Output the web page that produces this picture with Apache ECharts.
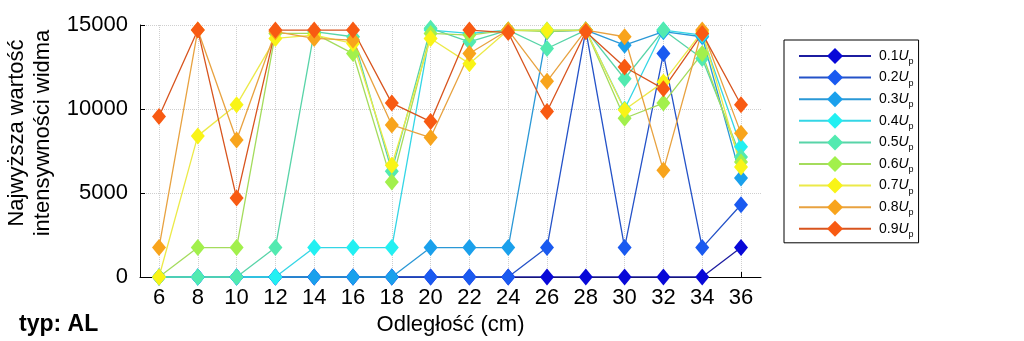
<!DOCTYPE html>
<html>
<head>
<meta charset="utf-8">
<script src="https://cdn.jsdelivr.net/npm/echarts@6/dist/echarts.min.js"></script>
<style>
  html, body { margin: 0; padding: 0; background: #fff; }
  #chart { width: 1024px; height: 341px; }
</style>
</head>
<body>
<div id="chart"></div>
<script>
// Distance from the source (cm)
const distances = [6, 8, 10, 12, 14, 16, 18, 20, 22, 24, 26, 28, 30, 32, 34, 36];
// Voltage levels as fractions of Up
const levels = ['0.1', '0.2', '0.3', '0.4', '0.5', '0.6', '0.7', '0.8', '0.9'];

// Highest spectrum intensity for each voltage level
const up01 = [0, 0, 0, 0, 0, 0, 0, 0, 0, 0, 0, 0, 0, 0, 0, 1750];
const up02 = [0, 0, 0, 0, 0, 0, 0, 0, 0, 0, 1750, 14700, 1750, 13300, 1750, 4300];
const up03 = [0, 0, 0, 0, 0, 0, 0, 1750, 1750, 1750, 14600, 14700, 13800, 14600, 14300, 5900];
const up04 = [0, 0, 0, 0, 1750, 1750, 1750, 14700, 14500, 14700, 14700, 14700, 10000, 14700, 14400, 7750];
const up05 = [0, 0, 0, 1750, 14600, 14300, 6300, 14800, 14000, 14700, 13600, 14700, 11800, 14700, 13000, 7150];
const up06 = [0, 1750, 1750, 14500, 14500, 13300, 5650, 14500, 14400, 14700, 14600, 14700, 9450, 10350, 13300, 6850];
const up07 = [0, 8400, 10250, 14200, 14400, 13900, 6650, 14200, 12700, 14700, 14700, 14700, 9950, 11600, 14600, 6550];
const up08 = [1750, 14700, 8150, 14600, 14200, 14100, 9050, 8300, 13300, 14700, 11650, 14700, 14300, 6350, 14700, 8550];
const up09 = [9550, 14700, 4700, 14700, 14700, 14700, 10350, 9250, 14700, 14550, 9850, 14600, 12500, 11200, 14500, 10250];

// Value-axis tick labels
const yTicks = [0, 5000, 10000, 15000];

const seriesValues = [up01, up02, up03, up04, up05, up06, up07, up08, up09];
const markerColors = ['#0808d8', '#1a5af0', '#1aa0ec', '#22f0f2', '#52eab0', '#a2f04c', '#f9f416', '#f8a41c', '#f85a12'];
const lineColors = ['#1c1ca0', '#2452c8', '#2a98d6', '#34d6e6', '#58d4a8', '#a4dc5c', '#ecea48', '#e8a240', '#d8541e'];

const FONT = 'Liberation Sans, Arial, Helvetica, sans-serif';
const chart = echarts.init(document.getElementById('chart'), null, { renderer: 'canvas' });

const series = levels.map((lv, k) => ({
  type: 'line',
  name: lv,
  xAxisIndex: 1,
  yAxisIndex: 1,
  data: distances.map((d, i) => [d, seriesValues[k][i]]),
  symbol: 'diamond',
  symbolSize: [14, 17],
  clip: false,
  lineStyle: { color: lineColors[k], width: 1.3 },
  itemStyle: { color: markerColors[k] },
  emphasis: { disabled: true }
}));

const gridLine = { show: true, lineStyle: { color: '#cfcfcf', type: 'dotted', width: 1 } };

chart.setOption({
  animation: false,
  backgroundColor: '#fff',
  grid: [
    { left: 140, right: 263, top: 25, bottom: 64 },   // axis frame
    { left: 159, right: 283, top: 25, bottom: 64 }    // data area (6..36 cm)
  ],
  xAxis: [
    {
      type: 'value', gridIndex: 0, min: 5, max: 37,
      axisLine: { show: true, lineStyle: { color: '#000', width: 1 } },
      axisTick: { show: false }, axisLabel: { show: false }, splitLine: { show: false },
      name: 'Odległość (cm)', nameLocation: 'middle', nameGap: 37,
      nameTextStyle: { fontFamily: FONT, fontSize: 22, color: '#000' }
    },
    {
      type: 'value', gridIndex: 1, min: 6, max: 36, interval: 2,
      axisLine: { show: false },
      axisTick: { show: true, inside: true, length: 5, lineStyle: { color: '#000' } },
      axisLabel: { fontFamily: FONT, fontSize: 22, color: '#000', margin: 10 },
      splitLine: gridLine
    }
  ],
  yAxis: [
    {
      type: 'value', gridIndex: 0, min: yTicks[0], max: yTicks[yTicks.length - 1], interval: 5000,
      axisLine: { show: true, lineStyle: { color: '#000', width: 1 } },
      axisTick: { show: true, inside: true, length: 5, lineStyle: { color: '#000' } },
      axisLabel: { fontFamily: FONT, fontSize: 22, color: '#000', margin: 12, formatter: v => String(v) },
      splitLine: gridLine
    },
    {
      type: 'value', gridIndex: 1, min: yTicks[0], max: yTicks[yTicks.length - 1],
      show: false
    }
  ],
  legend: {
    orient: 'vertical',
    left: 784, top: 40,
    padding: [8, 5, 4, 14],
    itemWidth: 72, itemHeight: 20, itemGap: 3.6,
    borderColor: '#000', borderWidth: 1, borderRadius: 0,
    selectedMode: false,
    data: levels,
    formatter: name => '{n|' + name + '}{u|U}{p|p}',
    textStyle: {
      padding: [0, 0, 0, 3],
      rich: {
        n: { fontFamily: FONT, fontSize: 14, color: '#000', lineHeight: 20, verticalAlign: 'middle' },
        u: { fontFamily: FONT, fontSize: 14, fontStyle: 'italic', color: '#000', lineHeight: 20, verticalAlign: 'middle' },
        p: { fontFamily: FONT, fontSize: 9, color: '#000', lineHeight: 9, verticalAlign: 'bottom' }
      }
    }
  },
  graphic: [
    {
      type: 'text', x: 30, y: 133, rotation: Math.PI / 2,
      style: {
        text: 'Najwyższa wartość\nintensywności widma',
        font: '22px ' + FONT, fill: '#000',
        align: 'center', verticalAlign: 'middle', lineHeight: 26
      }
    },
    {
      type: 'text', left: 19, top: 313,
      style: { text: 'typ: AL', font: 'bold 23px ' + FONT, fill: '#000' }
    }
  ],
  series: series
});
</script>
</body>
</html>
